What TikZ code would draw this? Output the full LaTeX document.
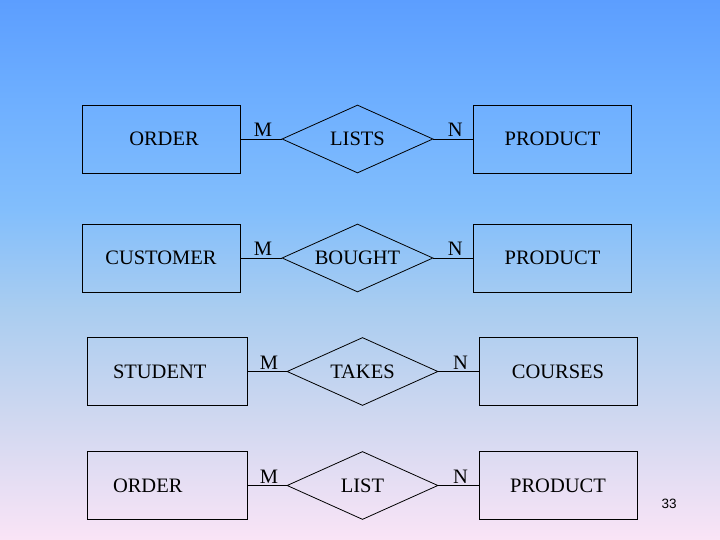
\documentclass[tikz,border=0pt]{standalone}
\usepackage{fontspec}
\setmainfont{Liberation Serif}
\newfontfamily\numfont{Liberation Sans}
\usetikzlibrary{shapes.geometric}

\definecolor{bgA}{RGB}{92,158,255}
\definecolor{bgB}{RGB}{110,175,255}
\definecolor{bgC}{RGB}{130,190,252}
\definecolor{bgD}{RGB}{170,205,240}
\definecolor{bgE}{RGB}{205,215,240}
\definecolor{bgF}{RGB}{250,228,246}
\pgfdeclareverticalshading{slidebg}{100bp}{color(0bp)=(bgF); color(25bp)=(bgF); color(37bp)=(bgE); color(46.3bp)=(bgD); color(55.6bp)=(bgC); color(65.7bp)=(bgB); color(75bp)=(bgA); color(100bp)=(bgA)}

\tikzset{
    entity/.style={draw, rectangle, minimum width=158pt, minimum height=68pt, inner sep=0pt},
    leftentity/.style={entity, minimum width=160pt, text width=108pt, align=left},
    relation/.style={draw, diamond, minimum width=151pt, minimum height=68pt, inner sep=0pt},
    card/.style={above, inner sep=2pt, pos=0.55}
}

\begin{document}
\begin{tikzpicture}[x=1pt, y=-1pt, line width=0.8pt, font=\fontsize{20.5}{24}\selectfont]

        \useasboundingbox (0,0) rectangle (720,540);
        \shade[shading=slidebg] (0,0) rectangle (720,540);

        \node[entity] (order) at (161,139) {\hspace*{6pt}ORDER};
        \node[relation, label=center:LISTS] (lists) at (357.5,139) {};
        \node[entity] (productA) at (552.5,139) {PRODUCT};
        \draw (order) -- node[card] (mA) {M} (lists);
        \draw (lists) -- node[card] (nA) {N} (productA);

        \node[entity] (customer) at (161,258) {CUSTOMER};
        \node[relation, label=center:BOUGHT] (bought) at (357.5,258) {};
        \node[entity] (productB) at (552.5,258) {PRODUCT};
        \draw (customer) -- node[card] (mB) {M} (bought);
        \draw (bought) -- node[card] (nB) {N} (productB);

        \node[leftentity] (student) at (167,371.5) {STUDENT};
        \node[relation, label=center:TAKES] (takes) at (362.5,371.5) {};
        \node[entity] (courses) at (558,371.5) {COURSES};
        \draw (student) -- node[card] (mC) {M} (takes);
        \draw (takes) -- node[card] (nC) {N} (courses);

        \node[leftentity] (orderB) at (167,485.5) {ORDER};
        \node[relation, label=center:LIST] (list) at (362.5,485.5) {};
        \node[entity] (productC) at (558,485.5) {PRODUCT};
        \draw (orderB) -- node[card] (mD) {M} (list);
        \draw (list) -- node[card] (nD) {N} (productC);

        \node[font=\numfont\fontsize{13.5}{16}\selectfont] (page) at (669,504) {33};

\end{tikzpicture}
\end{document}
